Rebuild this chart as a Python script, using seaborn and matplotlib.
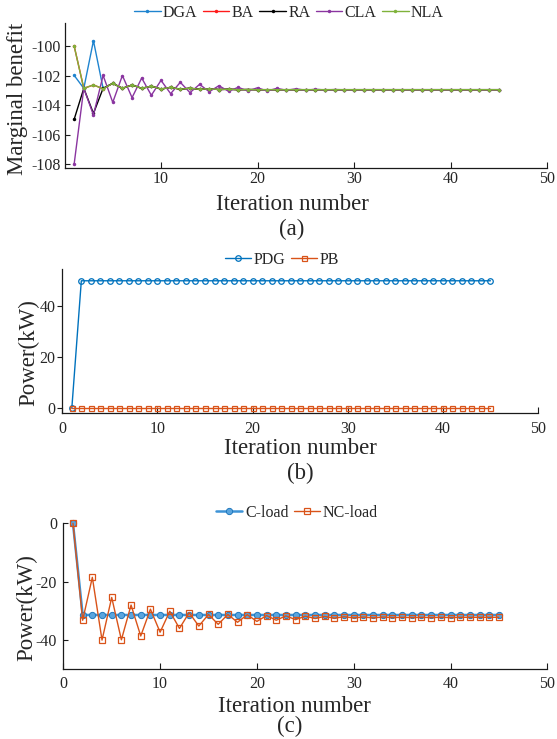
import matplotlib
matplotlib.use("Agg")
import matplotlib.pyplot as plt
import seaborn as sns
import pandas as pd

# ---------------- data ----------------
iterations = list(range(1, 46))

# (a) marginal benefit
dga = [-101.99, -102.87, -99.64, -102.87, -102.53, -102.87, -102.64, -102.87, -102.72, -102.92,
       -102.80, -102.93, -102.86, -102.94, -102.90, -102.95, -102.93, -102.96, -102.95, -102.96,
       -102.96, -102.96, -102.96, -102.96, -102.96, -102.96, -102.96, -102.96, -102.96, -102.96,
       -102.96, -102.96, -102.96, -102.96, -102.96, -102.96, -102.96, -102.96, -102.96, -102.96,
       -102.96, -102.96, -102.96, -102.96, -102.96]
ba = [-100.00, -102.87, -102.64, -102.90, -102.53, -102.87, -102.64, -102.87, -102.72, -102.92,
      -102.80, -102.93, -102.86, -102.94, -102.90, -102.95, -102.93, -102.96, -102.95, -102.96,
      -102.96, -102.96, -102.96, -102.96, -102.96, -102.96, -102.96, -102.96, -102.96, -102.96,
      -102.96, -102.96, -102.96, -102.96, -102.96, -102.96, -102.96, -102.96, -102.96, -102.96,
      -102.96, -102.96, -102.96, -102.96, -102.96]
ra = [-104.97, -102.87, -104.57, -102.87, -102.53, -102.87, -102.64, -102.87, -102.72, -102.92,
      -102.80, -102.93, -102.86, -102.94, -102.90, -102.95, -102.93, -102.96, -102.95, -102.96,
      -102.96, -102.96, -102.96, -102.96, -102.96, -102.96, -102.96, -102.96, -102.96, -102.96,
      -102.96, -102.96, -102.96, -102.96, -102.96, -102.96, -102.96, -102.96, -102.96, -102.96,
      -102.96, -102.96, -102.96, -102.96, -102.96]
cla = [-108.00, -102.87, -104.68, -101.99, -103.82, -102.00, -103.50, -102.17, -103.34, -102.33,
       -103.23, -102.46, -103.16, -102.60, -103.10, -102.69, -103.07, -102.80, -103.05, -102.83,
       -103.05, -102.87, -103.00, -102.90, -103.00, -102.93, -102.98, -102.95, -102.97, -102.96,
       -102.96, -102.96, -102.96, -102.96, -102.96, -102.96, -102.96, -102.96, -102.96, -102.96,
       -102.96, -102.96, -102.96, -102.96, -102.96]
nla = [-100.00, -102.87, -102.64, -102.90, -102.53, -102.87, -102.64, -102.87, -102.72, -102.92,
       -102.80, -102.93, -102.86, -102.94, -102.90, -102.95, -102.93, -102.96, -102.95, -102.96,
       -102.96, -102.96, -102.96, -102.96, -102.96, -102.96, -102.96, -102.96, -102.96, -102.96,
       -102.96, -102.96, -102.96, -102.96, -102.96, -102.96, -102.96, -102.96, -102.96, -102.96,
       -102.96, -102.96, -102.96, -102.96, -102.96]

# (b) power of generator / battery
pdg = [0, 50, 50, 50, 50, 50, 50, 50, 50, 50, 50, 50, 50, 50, 50, 50, 50, 50, 50, 50, 50, 50, 50,
       50, 50, 50, 50, 50, 50, 50, 50, 50, 50, 50, 50, 50, 50, 50, 50, 50, 50, 50, 50, 50, 50]
pb = [0, 0, 0, 0, 0, 0, 0, 0, 0, 0, 0, 0, 0, 0, 0, 0, 0, 0, 0, 0, 0, 0, 0,
      0, 0, 0, 0, 0, 0, 0, 0, 0, 0, 0, 0, 0, 0, 0, 0, 0, 0, 0, 0, 0, 0]

# (c) loads
c_load = [0, -31.4, -31.4, -31.4, -31.4, -31.4, -31.4, -31.4, -31.4, -31.4, -31.4, -31.4, -31.4,
          -31.4, -31.4, -31.4, -31.4, -31.4, -31.4, -31.4, -31.4, -31.4, -31.4, -31.4, -31.4,
          -31.4, -31.4, -31.4, -31.4, -31.4, -31.4, -31.4, -31.4, -31.4, -31.4, -31.4, -31.4,
          -31.4, -31.4, -31.4, -31.4, -31.4, -31.4, -31.4, -31.4]
nc_load = [0, -33.2, -18.5, -40.0, -25.4, -39.9, -28.0, -38.6, -29.4, -37.3, -30.1, -36.0, -30.6,
           -35.2, -31.2, -34.6, -31.2, -33.9, -31.3, -33.6, -31.6, -33.2, -31.7, -33.0, -31.8,
           -32.6, -31.9, -32.5, -32.0, -32.4, -32.1, -32.4, -32.1, -32.3, -32.2, -32.3, -32.2,
           -32.3, -32.2, -32.3, -32.2, -32.2, -32.2, -32.2, -32.2]

labels_a = ["DGA", "BA", "RA", "CLA", "NLA"]
labels_b = ["PDG", "PB"]
labels_c = ["C-load", "NC-load"]

# ---------------- style ----------------
sns.set_style("ticks")
plt.rcParams["font.family"] = ["Liberation Serif", "DejaVu Serif"]
plt.rcParams["axes.unicode_minus"] = False

TXT = "#262626"
W, H = 557, 739
fig = plt.figure(figsize=(W / 100, H / 100), dpi=100)


def ax_at(l, t, r, b):
    return fig.add_axes([l / W, 1 - b / H, (r - l) / W, (b - t) / H])


def style(ax, xdir, ydir, xpad, ypad):
    for s in ["top", "right"]:
        ax.spines[s].set_visible(False)
    for s in ["left", "bottom"]:
        ax.spines[s].set_linewidth(0.9)
        ax.spines[s].set_color("#1a1a1a")
    ax.tick_params(axis="x", direction=xdir, length=4, width=0.8, pad=xpad,
                   labelsize=11.5, labelcolor=TXT, color="#1a1a1a")
    ax.tick_params(axis="y", direction=ydir, length=3.5, width=0.8, pad=ypad,
                   labelsize=11.5, labelcolor=TXT, color="#1a1a1a")
    ax.set_xlabel("")
    ax.set_ylabel("")


LBL = 16.5
LEG = dict(frameon=False, fontsize=11.5, handlelength=1.65, handletextpad=0.15,
           columnspacing=0.35, borderpad=0, labelcolor=TXT)

# ---------------- (a) ----------------
axa = ax_at(64.5, 23, 547, 168.3)
cols_a = ["#1f84cf", "#ff1a1a", "#000000", "#8a35a0", "#7fb23a"]
for series, lab, col in zip([dga, ba, ra, cla, nla], labels_a, cols_a):
    sns.lineplot(x=iterations, y=series, ax=axa, color=col, lw=1.0, marker=".",
                 markersize=5, markeredgewidth=0, label=lab, clip_on=False)
axa.set_xlim(0, 50)
axa.set_ylim(-108.29, -98.44)
axa.set_xticks([10, 20, 30, 40, 50])
axa.set_yticks([-108, -106, -104, -102, -100])
style(axa, "in", "in", 2, 3)
axa.legend(loc="center", bbox_to_anchor=(289 / W, 1 - 13 / H), bbox_transform=fig.transFigure,
           ncol=5, **LEG)
fig.text(18 / W, 1 - 99 / H, "Marginal benefit", rotation=90, ha="center", va="center",
         fontsize=LBL, color=TXT)
fig.text(292 / W, 1 - 205 / H, "Iteration number", ha="center", va="center", fontsize=LBL, color=TXT)
fig.text(292 / W, 1 - 229 / H, "(a)", ha="center", va="center", fontsize=LBL, color=TXT)

# ---------------- (b) ----------------
axb = ax_at(62.3, 269.3, 538, 413)
sns.lineplot(x=iterations, y=pdg, ax=axb, color="#0072BD", lw=1.0, marker="o", markersize=4,
             markerfacecolor="none", markeredgecolor="#0072BD", markeredgewidth=0.9,
             label=labels_b[0], clip_on=False)
sns.lineplot(x=iterations, y=pb, ax=axb, color="#D95319", lw=1.0, marker="s", markersize=3.6,
             markerfacecolor="none", markeredgecolor="#D95319", markeredgewidth=0.9,
             label=labels_b[1], clip_on=False)
axb.set_xlim(0, 50)
axb.set_ylim(-1.84, 54.5)
axb.set_xticks([0, 10, 20, 30, 40, 50])
axb.set_yticks([0, 20, 40])
style(axb, "in", "out", 6, 1.5)
axb.legend(loc="center", bbox_to_anchor=(282 / W, 1 - 260 / H), bbox_transform=fig.transFigure,
           ncol=2, **LEG)
fig.text(29 / W, 1 - 353 / H, "Power(kW)", rotation=90, ha="center", va="center",
         fontsize=LBL, color=TXT)
fig.text(300 / W, 1 - 449 / H, "Iteration number", ha="center", va="center", fontsize=LBL, color=TXT)
fig.text(300 / W, 1 - 473 / H, "(b)", ha="center", va="center", fontsize=LBL, color=TXT)

# ---------------- (c) ----------------
axc = ax_at(63.3, 523.3, 547.3, 669.3)
sns.lineplot(x=iterations, y=c_load, ax=axc, color="#3d93d6", lw=1.8, marker="o", markersize=4.5,
             markerfacecolor="#5aa5de", markeredgecolor="#1f78bd", markeredgewidth=0.7,
             label=labels_c[0], clip_on=False)
sns.lineplot(x=iterations, y=nc_load, ax=axc, color="#D95319", lw=1.0, marker="s", markersize=4,
             markerfacecolor="none", markeredgecolor="#D95319", markeredgewidth=0.9,
             label=labels_c[1], clip_on=False)
axc.set_xlim(0, 50)
axc.set_ylim(-50, 0)
axc.set_xticks([0, 10, 20, 30, 40, 50])
axc.set_yticks([-40, -20, 0])
style(axc, "in", "in", 5, 4.5)
axc.legend(loc="center", bbox_to_anchor=(297 / W, 1 - 513 / H), bbox_transform=fig.transFigure,
           ncol=2, **LEG)
fig.text(27 / W, 1 - 608 / H, "Power(kW)", rotation=90, ha="center", va="center",
         fontsize=LBL, color=TXT)
fig.text(294 / W, 1 - 707 / H, "Iteration number", ha="center", va="center", fontsize=LBL, color=TXT)
fig.text(290 / W, 1 - 726 / H, "(c)", ha="center", va="center", fontsize=LBL, color=TXT)

fig.savefig("out.png", dpi=100)
